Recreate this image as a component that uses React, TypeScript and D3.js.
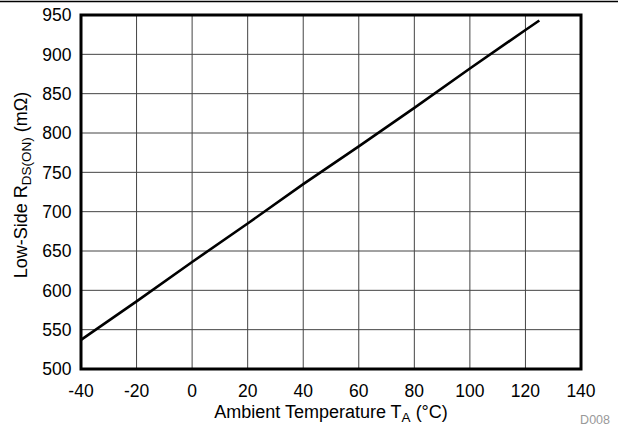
import React, { useEffect, useRef } from "react";
import * as d3 from "d3";

const temps = [-40, -20, 0, 20, 40, 60, 80, 100, 120, 125];
const rdsOn = [537, 586, 636, 685, 735, 783, 832, 882, 931, 943];
const xTicks = [-40, -20, 0, 20, 40, 60, 80, 100, 120, 140];
const yTicks = [500, 550, 600, 650, 700, 750, 800, 850, 900, 950];

const W = 618;
const H = 430;
const M = { left: 81, right: 581, top: 15, bottom: 369 };
const FONT = "'Liberation Sans', Arial, sans-serif";

export default function App() {
  const ref = useRef<SVGSVGElement>(null);
  useEffect(() => {
    const svg = d3.select(ref.current);
    svg.selectAll("*").remove();
    const x = d3.scaleLinear().domain([-40, 140]).range([M.left, M.right]);
    const y = d3.scaleLinear().domain([500, 950]).range([M.bottom, M.top]);

    svg.append("rect").attr("width", W).attr("height", H).attr("fill", "#fff");
    svg.append("line").attr("x1", 0).attr("x2", W).attr("y1", 1.5).attr("y2", 1.5)
      .attr("stroke", "#000").attr("stroke-width", 1.4);

    const g = svg.append("g");
    g.selectAll(".vg").data(xTicks.slice(1, -1)).enter().append("line")
      .attr("x1", (d) => x(d)).attr("x2", (d) => x(d))
      .attr("y1", M.top).attr("y2", M.bottom)
      .attr("stroke", "#444").attr("stroke-width", 1);
    g.selectAll(".hg").data(yTicks.slice(1, -1)).enter().append("line")
      .attr("x1", M.left).attr("x2", M.right)
      .attr("y1", (d) => y(d)).attr("y2", (d) => y(d))
      .attr("stroke", "#444").attr("stroke-width", 1);

    const line = d3.line<number>().x((_, i) => x(temps[i])).y((d) => y(d));
    g.append("path").datum(rdsOn).attr("d", line).attr("fill", "none")
      .attr("stroke", "#000").attr("stroke-width", 2.6);

    g.append("rect").attr("x", M.left).attr("y", M.top)
      .attr("width", M.right - M.left).attr("height", M.bottom - M.top)
      .attr("fill", "none").attr("stroke", "#000").attr("stroke-width", 3);

    g.selectAll(".xt").data(xTicks).enter().append("text")
      .attr("x", (d) => x(d)).attr("y", 397).attr("text-anchor", "middle")
      .attr("font-family", FONT).attr("font-size", 17.5).attr("fill", "#000")
      .text((d) => String(d));
    g.selectAll(".yt").data(yTicks).enter().append("text")
      .attr("x", 71.5).attr("y", (d) => y(d) + 6.2).attr("text-anchor", "end")
      .attr("font-family", FONT).attr("font-size", 17.5).attr("fill", "#000")
      .text((d) => String(d));

    const xt = g.append("text").attr("x", (M.left + M.right) / 2).attr("y", 418)
      .attr("text-anchor", "middle").attr("font-family", FONT).attr("font-size", 18);
    xt.append("tspan").text("Ambient Temperature T");
    xt.append("tspan").attr("font-size", 13.5).attr("dy", 4).text("A");
    xt.append("tspan").attr("dy", -4).text(" (°C)");

    const yt = g.append("text")
      .attr("transform", `translate(26.5,185) rotate(-90)`)
      .attr("text-anchor", "middle").attr("font-family", FONT).attr("font-size", 18);
    yt.append("tspan").text("Low-Side R");
    yt.append("tspan").attr("font-size", 13.5).attr("dy", 4).text("DS(ON)");
    yt.append("tspan").attr("dy", -4).text(" (mΩ)");

    g.append("text").attr("x", 610).attr("y", 424).attr("text-anchor", "end")
      .attr("font-family", FONT).attr("font-size", 12.5).attr("fill", "#999").text("D008");
  }, []);
  return (
    <div style={{ position: "absolute", left: 0, top: 0 }}>
      <svg ref={ref} width={W} height={H} />
    </div>
  );
}
